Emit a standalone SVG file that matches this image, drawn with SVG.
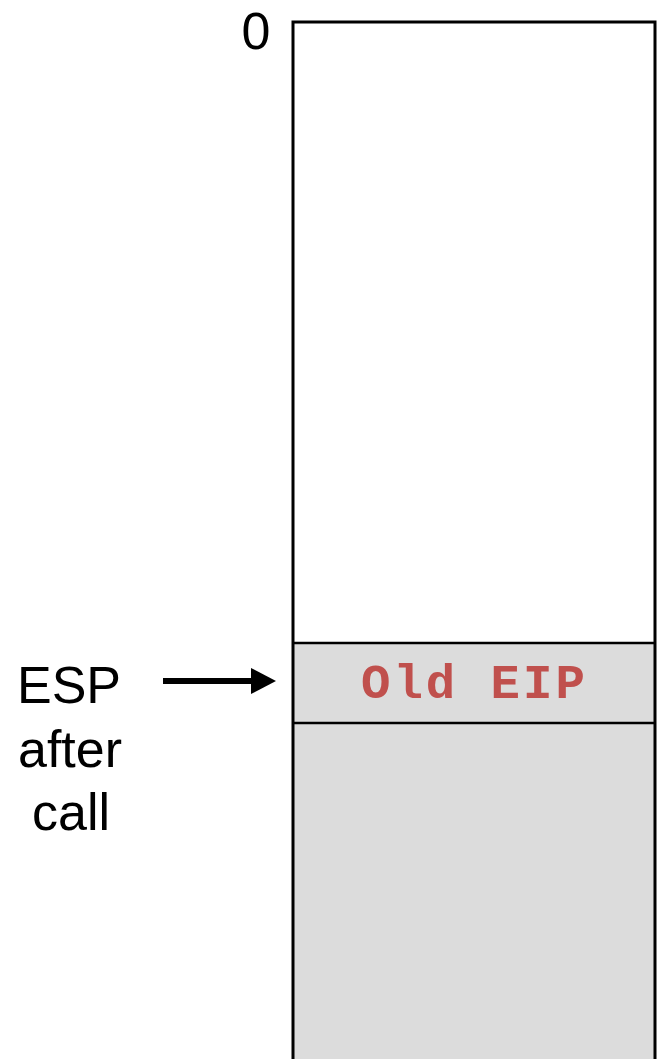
<svg xmlns="http://www.w3.org/2000/svg" width="661" height="1059" viewBox="0 0 661 1059">
<style>
.lbl{font-family:"Liberation Sans",Arial,sans-serif;fill:#000;text-anchor:middle}
.mono{font-family:"Liberation Mono","Courier New",monospace;font-weight:bold;fill:#C0504D}
</style>
<rect x="0" y="0" width="661" height="1059" fill="#fff"/>
<g id="stack">
<rect x="293" y="22" width="362" height="1045" fill="#fff" stroke="none"/>
<rect x="293" y="643" width="362" height="424" fill="#DCDCDC" stroke="none"/>
<path d="M293,1059 V22 H655 V1059" fill="none" stroke="#000" stroke-width="3"/>
</g>
<g id="old-eip">
<line x1="293" y1="643" x2="655" y2="643" stroke="#000" stroke-width="2.5"/>
<line x1="293" y1="723" x2="655" y2="723" stroke="#000" stroke-width="2.5"/>
<text class="mono" x="361" y="698" font-size="49" letter-spacing="3">Old EIP</text>
</g>
<g id="zero-label">
<text class="lbl" x="256" y="49" font-size="52">0</text>
</g>
<g id="esp-label">
<text class="lbl" x="69" y="703" font-size="52">ESP</text>
<text class="lbl" x="70" y="767" font-size="52">after</text>
<text class="lbl" x="71" y="830" font-size="52">call</text>
</g>
<g id="connectors">
<line x1="163" y1="681" x2="252" y2="681" stroke="#000" stroke-width="6"/>
<path d="M251,668 L276,681 L251,694 Z" fill="#000"/>
</g>
</svg>
